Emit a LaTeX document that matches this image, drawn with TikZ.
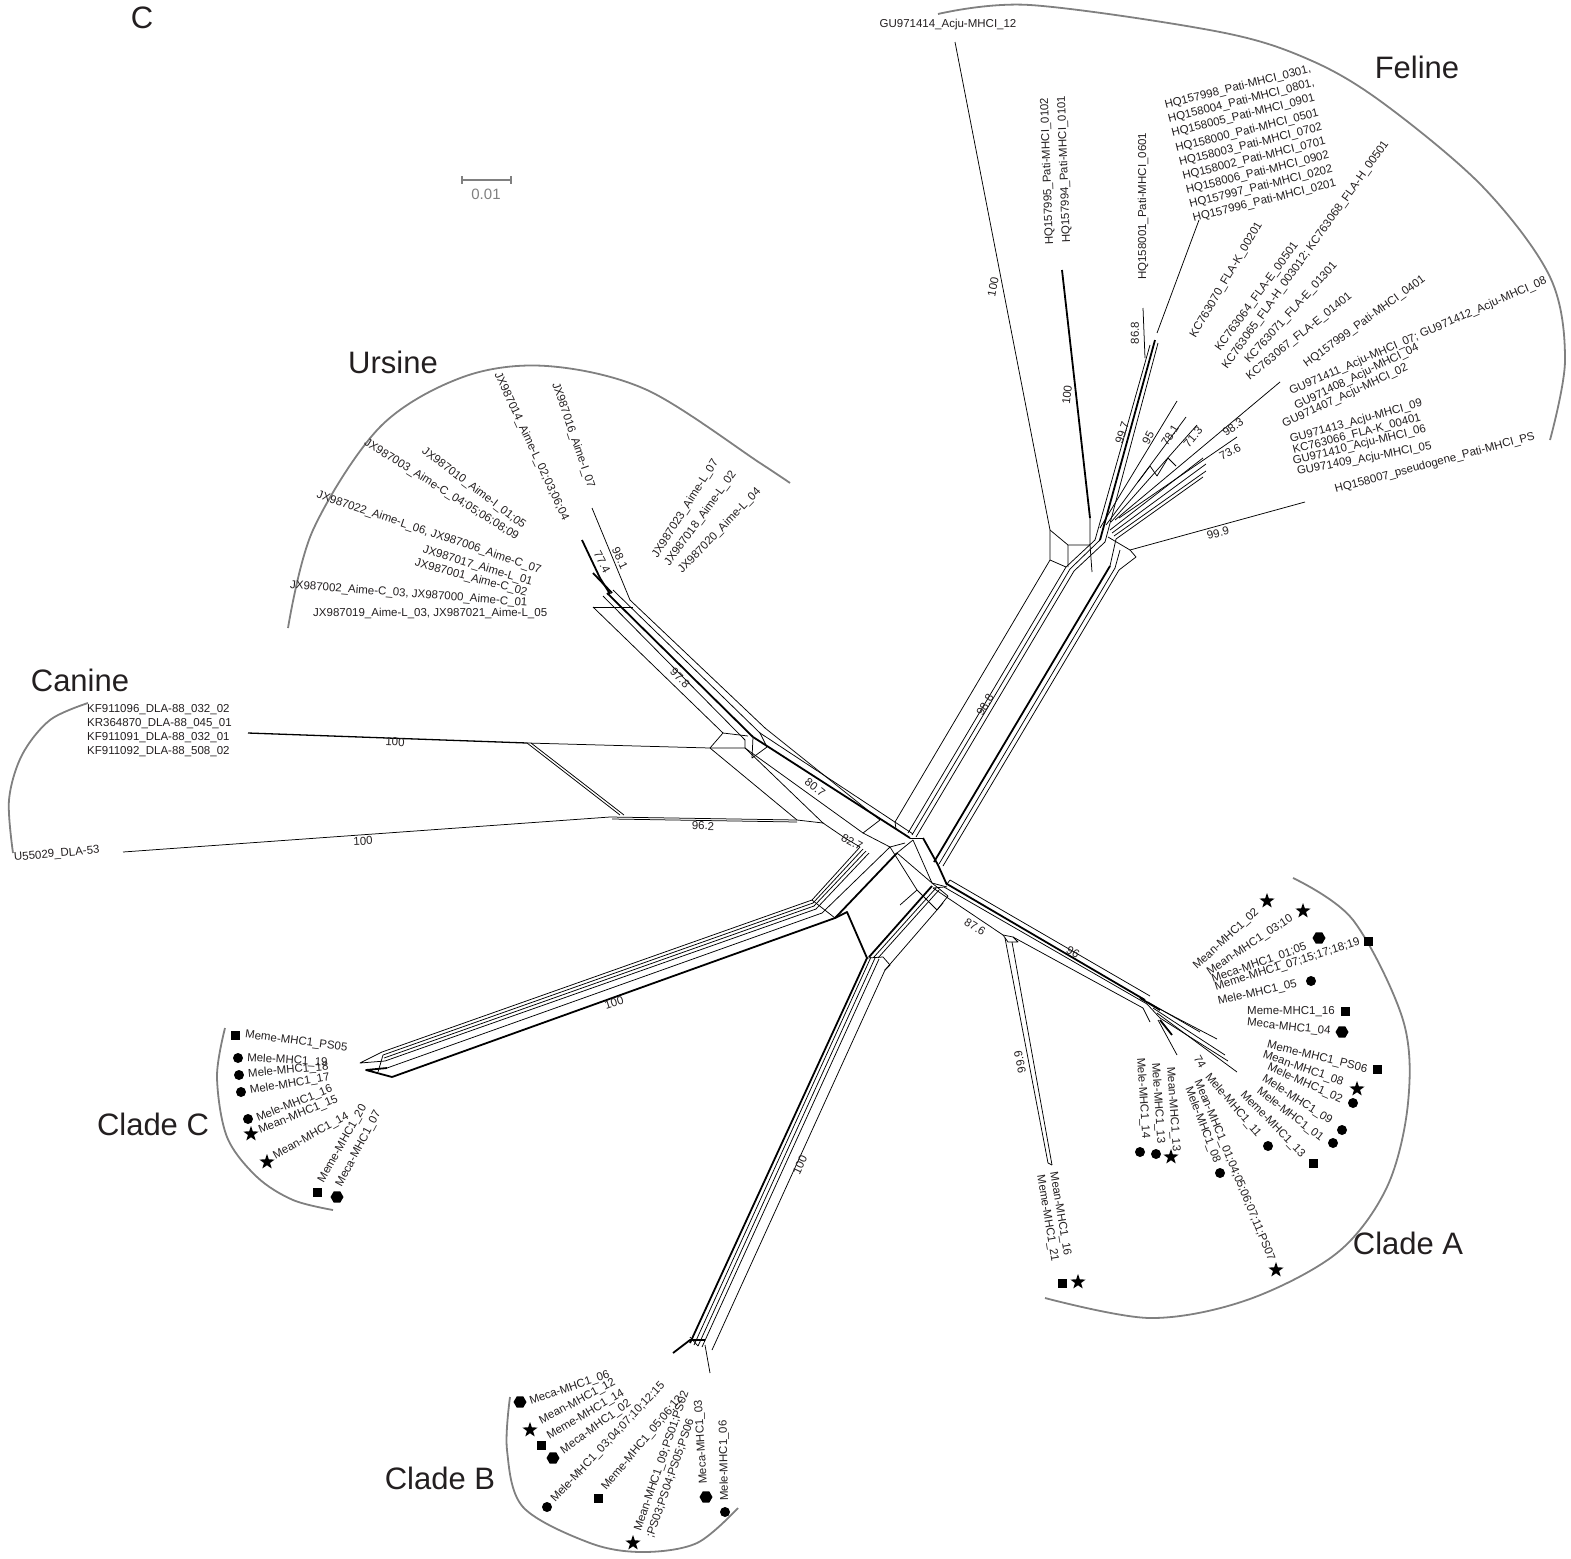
\documentclass[tikz,border=0pt]{standalone}
\usepackage{fontspec}
\setmainfont{Liberation Sans}
\usetikzlibrary{shapes.geometric,calc}
\definecolor{arcgray}{RGB}{128,128,128}
\definecolor{txt}{RGB}{35,31,32}
\begin{document}
\begin{tikzpicture}[x=1pt,y=-1pt,
  net/.style={line width=0.75pt, line join=round},
  netthick/.style={line width=1.8pt, line join=round},
  arcline/.style={arcgray, line width=1.8pt},
  lab/.style={font=\fontsize{11.5}{14}\selectfont, inner sep=0pt, text=txt, anchor=west},
  bs/.style={font=\fontsize{11.5}{13}\selectfont, inner sep=0pt, text=txt},
  big/.style={font=\fontsize{31}{36}\selectfont, inner sep=0pt, text=txt},
  mstar/.style={star, star points=5, star point ratio=2.5, fill=black, draw=none, inner sep=0pt, minimum size=16pt},
  mcirc/.style={circle, fill=black, draw=none, inner sep=0pt, minimum size=10pt},
  msq/.style={rectangle, fill=black, draw=none, inner sep=0pt, minimum size=9pt},
  mhex/.style={regular polygon, regular polygon sides=6, fill=black, draw=none, inner sep=0pt, minimum size=13pt}]
\useasboundingbox (0,0) rectangle (1571,1558);

% ---------- group arcs ----------
\draw[arcline] plot[smooth,tension=0.55] coordinates {(938,14) (1030,5) (1220,32) (1310,60) (1383,103) (1483,187) (1550,277) (1565,360) (1550,440)};
\draw[arcline] plot[smooth,tension=0.55] coordinates {(288,628) (313,530) (380,427) (463,377) (547,366) (647,390) (760,463) (790,483)};
\draw[arcline] plot[smooth,tension=0.55] coordinates {(88,703) (50,720) (22,755) (9,800) (13,853)};
\draw[arcline] plot[smooth,tension=0.55] coordinates {(1293,878) (1353,920) (1403,1020) (1408,1103) (1387,1187) (1337,1253) (1247,1300) (1150,1318) (1045,1298)};
\draw[arcline] plot[smooth,tension=0.55] coordinates {(510,1397) (507,1450) (523,1507) (590,1543) (643,1552) (697,1543) (738,1508)};
\draw[arcline] plot[smooth,tension=0.55] coordinates {(225,1028) (217,1077) (227,1137) (257,1177) (293,1200) (333,1210)};

% ---------- scale bar ----------
\coordinate (sb1) at (462,180); \coordinate (sb2) at (511,180);
\draw[arcgray, line width=1.8pt] (sb1) -- (sb2);
\draw[arcgray, line width=1.4pt] ($(sb1)+(0,-4)$) -- ($(sb1)+(0,4)$) ($(sb2)+(0,-4)$) -- ($(sb2)+(0,4)$);
\node[font=\fontsize{15}{17}\selectfont, text=arcgray, inner sep=0pt] (sbl) at (486,194) {0.01};

% ---------- Feline part of network ----------
\draw[net] (895,822) -- (1050,560) -- (1050,530) -- (955,42);
\draw[net] (908,833) -- (1066,567) -- (1095,540);
\draw[net] (912,835) -- (1070,569) -- (1100,540);
\draw[net] (916,837) -- (1074,571) -- (1105,542);
\draw[netthick] (934,862) -- (1110,566);
\draw[net] (939,864) -- (1115,568);
\draw[net] (943,866) -- (1119,570);
\draw[net] (1050,560) -- (1066,567);
\draw[net] (1050,530) -- (1068,545) -- (1090,545) -- (1090,518);
\draw[net] (1068,545) -- (1068,567) (1090,545) -- (1092,572);
\draw[netthick] (1090,518) -- (1062,270);
\draw[net] (1095,540) -- (1150,345);
\draw[netthick] (1100,540) -- (1155,340);
\draw[net] (1105,542) -- (1158,343);
\draw[net] (1145,358) -- (1143,308);
\draw[net] (1157,333) -- (1199,220);
\draw[net] (1100,528) -- (1177,401);
\draw[net] (1106,525) -- (1186,417);
\draw[net] (1111,522) -- (1197,425);
\draw[net] (1115,520) -- (1280,382);
\draw[net] (1119,518) -- (1237,437);
\draw[net] (1110,530) -- (1203,458);
\draw[net] (1112,533) -- (1206,464);
\draw[net] (1114,536) -- (1206,471);
\draw[net] (1116,539) -- (1203,477);
\draw[net] (1138,482) -- (1150,466) -- (1157,476) -- (1168,458) -- (1176,466);
\draw[net] (1110,566) -- (1116,539) (1115,568) -- (1120,550);
\draw[net] (1108,537) -- (1130,550) -- (1305,502);
\draw[net] (1119,570) -- (1136,557) -- (1130,550);

% ---------- Ursine part ----------
\draw[net] (592,508) -- (630,600) -- (765,728);
\draw[netthick] (582,540) -- (600,578) -- (610,594);
\draw[netthick] (593,573) -- (612,593);
\draw[net] (593,607) -- (633,607);
\draw[net] (593,607) -- (723,733) -- (748,736);
\draw[net] (603,596) -- (745,740);
\draw[netthick] (607,593) -- (753,737);
\draw[net] (613,590) -- (760,733);
\draw[netthick] (753,737) -- (910,838);
\draw[net] (760,733) -- (913,834);
\draw[net] (765,728) -- (880,820);
\draw[net] (745,748) -- (863,833);
\draw[net] (745,740) -- (745,748) (753,737) -- (752,758) -- (767,747) -- (760,733);

% ---------- Canine part ----------
\draw[line width=1.3pt] (248,733) -- (527,743);
\draw[net] (527,743) -- (710,748) -- (745,748);
\draw[net] (710,748) -- (723,733);
\draw[net] (527,743) -- (620,815) (531,743) -- (624,815);
\draw[net] (123,852) -- (610,817) -- (797,820) -- (823,823);
\draw[net] (612,819) -- (797,822);
\draw[net] (710,748) -- (797,820);
\draw[net] (745,748) -- (823,823);
\draw[net] (823,823) -- (845,838) -- (860,847);

% ---------- hub ----------
\draw[net] (880,820) -- (863,833) -- (890,847);
\draw[net] (895,822) -- (896,829);
\draw[net] (910,838) -- (923,838);
\draw[netthick] (923,838) -- (938,865) -- (947,885);
\draw[net] (913,840) -- (932,883) -- (947,887);
\draw[net] (890,847) -- (917,890) -- (937,910);
\draw[net] (897,853) -- (932,883);
\draw[net] (905,843) -- (890,847);
\draw[net] (913,840) -- (897,853);
\draw[net] (917,890) -- (900,905) (937,910) -- (948,896);
\draw[net] (932,883) -- (948,896);

% ---------- Clade C part ----------
\draw[net] (860,847) -- (812,900) -- (382,1052);
\draw[net] (863,849) -- (813,903) -- (383,1055);
\draw[net] (866,851) -- (814,906) -- (384,1058);
\draw[net] (869,853) -- (816,909) -- (385,1061);
\draw[net] (890,847) -- (822,913) -- (387,1068);
\draw[netthick] (897,853) -- (835,918) -- (392,1077);
\draw[net] (812,900) -- (835,918);
\draw[net] (382,1052) -- (360,1063) -- (385,1061);
\draw[netthick] (387,1068) -- (366,1070) -- (392,1077);
\draw[net] (383,1055) -- (378,1072);

% ---------- Clade B part ----------
\draw[netthick] (835,918) -- (847,912) -- (867,958) -- (690,1343);
\draw[net] (871,957) -- (694,1345);
\draw[net] (875,958) -- (698,1346);
\draw[net] (879,959) -- (702,1347);
\draw[net] (885,970) -- (712,1350);
\draw[net] (867,958) -- (883,957) -- (890,965) -- (885,970);
\draw[netthick] (869,957) -- (932,886);
\draw[net] (874,957) -- (936,888) (878,958) -- (939,890);
\draw[net] (885,970) -- (943,903);
\draw[netthick] (673,1353) -- (690,1340) -- (705,1340);
\draw[net] (690,1337) -- (698,1346) (705,1345) -- (710,1373);

% ---------- Clade A part ----------
\draw[netthick] (947,884) -- (1145,1000);
\draw[net] (950,880) -- (1150,996);
\draw[net] (944,887) -- (1147,1004);
\draw[net] (933,888) -- (1003,935) -- (1013,937) -- (1143,1008);
\draw[net] (1003,935) -- (1008,942) -- (1018,942) -- (1013,937);
\draw[net] (1005,938) -- (1048,1163);
\draw[net] (1012,942) -- (1052,1165);
\draw[net] (1048,1163) -- (1052,1165);
\draw[net] (947,884) -- (950,880) (944,887) -- (933,888);
\draw[netthick] (1140,998) -- (1160,1010);
\draw[net] (1148,1002) -- (1200,1032);
\draw[net] (1150,1004) -- (1217,1039);
\draw[net] (1153,1008) -- (1225,1055);
\draw[net] (1157,1013) -- (1237,1072);
\draw[net] (1160,1018) -- (1228,1061);
\draw[net] (1158,1020) -- (1177,1055);
\draw[netthick] (1160,1020) -- (1172,1035);
\draw[net] (1143,1008) -- (1150,1022) (1147,1004) -- (1160,1018);

% ---------- big labels ----------
\node[big] (panel) at (142,18) {C};
\node[big] (feline) at (1417,67) {Feline};
\node[big] (ursine) at (393,362) {Ursine};
\node[big] (canine) at (80,680) {Canine};
\node[big] (cladeC) at (153,1124) {Clade C};
\node[big] (cladeB) at (440,1478) {Clade B};
\node[big] (cladeA) at (1408,1243) {Clade A};

% ---------- bootstrap values ----------
\node[bs, rotate=79] (b1) at (993,287) {100};
\node[bs, rotate=84] (b2) at (1067,395) {100};
\node[bs, rotate=90] (b3) at (1135,333) {86.8};
\node[bs, rotate=72] (b4) at (1122,433) {99.7};
\node[bs, rotate=62] (b5) at (1148,438) {95};
\node[bs, rotate=58] (b6) at (1170,435) {78.1};
\node[bs, rotate=50] (b7) at (1193,437) {71.3};
\node[bs, rotate=35] (b8) at (1233,427) {98.3};
\node[bs, rotate=27] (b9) at (1230,452) {73.6};
\node[bs, rotate=15] (b10) at (1218,533) {99.9};
\node[bs, rotate=59] (b11) at (985,705) {98.8};
\node[bs, rotate=-65] (b12) at (620,558) {98.1};
\node[bs, rotate=-62] (b13) at (602,562) {77.4};
\node[bs, rotate=-45] (b14) at (680,678) {97.8};
\node[bs, rotate=-38] (b15) at (815,787) {80.7};
\node[bs, rotate=-28] (b16) at (852,842) {82.7};
\node[bs, rotate=-2] (b17) at (395,742) {100};
\node[bs, rotate=-1] (b18) at (703,826) {96.2};
\node[bs, rotate=3] (b19) at (363,841) {100};
\node[bs, rotate=18] (b20) at (614,1003) {100};
\node[bs, rotate=65] (b21) at (800,1165) {100};
\node[bs, rotate=-32] (b22) at (975,927) {87.6};
\node[bs, rotate=-30] (b23) at (1073,952) {96};
\node[bs, rotate=101] (b24) at (1020,1062) {99.9};
\node[bs, rotate=-60] (b25) at (1200,1062) {74};

% ---------- Feline labels ----------
\node[lab, anchor=center] (f1) at (948,25) {GU971414\_Acju-MHCI\_12};
\node[lab, rotate=92] (f2) at (1050,245) {HQ157995\_Pati-MHCI\_0102};
\node[lab, rotate=92] (f3) at (1067,243) {HQ157994\_Pati-MHCI\_0101};
\node[lab, rotate=90] (f4) at (1143,280) {HQ158001\_Pati-MHCI\_0601};
\node[lab, anchor=center, align=left, rotate=14, font=\fontsize{11.5}{14.4}\selectfont] (f5) at (1252,144)
 {HQ157998\_Pati-MHCI\_0301,\\HQ158004\_Pati-MHCI\_0801,\\HQ158005\_Pati-MHCI\_0901\\[1.5pt]HQ158000\_Pati-MHCI\_0501\\HQ158003\_Pati-MHCI\_0702\\HQ158002\_Pati-MHCI\_0701\\HQ158006\_Pati-MHCI\_0902\\HQ157997\_Pati-MHCI\_0202\\HQ157996\_Pati-MHCI\_0201};
\node[lab, rotate=59.5] (f6) at (1193,337) {KC763070\_FLA-K\_00201};
\node[lab, rotate=53.7] (f7) at (1218,350) {KC763064\_FLA-E\_00501};
\node[lab, rotate=54.4] (f8) at (1225,368) {KC763065\_FLA-H\_003012; KC763068\_FLA-H\_00501};
\node[lab, rotate=48] (f9) at (1247,362) {KC763071\_FLA-E\_01301};
\node[lab, rotate=39] (f10) at (1248,378) {KC763067\_FLA-E\_01401};
\node[lab, rotate=36] (f11) at (1305,365) {HQ157999\_Pati-MHCI\_0401};
\node[lab, rotate=23.5] (f12) at (1290,392) {GU971411\_Acju-MHCI\_07; GU971412\_Acju-MHCI\_08};
\node[lab, rotate=26] (f13) at (1295,407) {GU971408\_Acju-MHCI\_04};
\node[lab, rotate=25] (f14) at (1283,425) {GU971407\_Acju-MHCI\_02};
\node[lab, rotate=15.6] (f15) at (1290,440) {GU971413\_Acju-MHCI\_09};
\node[lab, rotate=14.5] (f16) at (1293,451) {KC763066\_FLA-K\_00401};
\node[lab, rotate=14] (f17) at (1293,462) {GU971410\_Acju-MHCI\_06};
\node[lab, rotate=11] (f18) at (1297,472) {GU971409\_Acju-MHCI\_05};
\node[lab, rotate=15] (f19) at (1335,490) {HQ158007\_pseudogene\_Pati-MHCI\_PS};

% ---------- Ursine labels ----------
\node[lab, rotate=-65] (u1) at (497,373) {JX987014\_Aime-L\_02;03;06;04};
\node[lab, rotate=-71] (u2) at (555,383) {JX987016\_Aime-I\_07};
\node[lab, rotate=-37] (u3) at (423,450) {JX987010\_Aime-I\_01;05};
\node[lab, rotate=-32] (u4) at (365,442) {JX987003\_Aime-C\_04;05;06;08;09};
\node[lab, rotate=-18.6] (u5) at (317,495) {JX987022\_Aime-L\_06, JX987006\_Aime-C\_07};
\node[lab, rotate=-16.7] (u6) at (423,550) {JX987017\_Aime-L\_01};
\node[lab, rotate=-15] (u7) at (415,563) {JX987001\_Aime-C\_02};
\node[lab, rotate=-4.4] (u8) at (290,585) {JX987002\_Aime-C\_03, JX987000\_Aime-C\_01};
\node[lab] (u9) at (313,613) {JX987019\_Aime-L\_03, JX987021\_Aime-L\_05};
\node[lab, rotate=57.7] (u10) at (655,557) {JX987023\_Aime-L\_07};
\node[lab, rotate=54] (u11) at (667,565) {JX987018\_Aime-L\_02};
\node[lab, rotate=46] (u12) at (680,572) {JX987020\_Aime-L\_04};

% ---------- Canine labels ----------
\node[lab, align=left] (c1) at (87,731) {KF911096\_DLA-88\_032\_02\\KR364870\_DLA-88\_045\_01\\KF911091\_DLA-88\_032\_01\\KF911092\_DLA-88\_508\_02};
\node[lab, rotate=5] (c2) at (14,858) {U55029\_DLA-53};

% ---------- Clade A labels and markers ----------
\node[lab, rotate=42.6] (a1) at (1195,968) {Mean-MHC1\_02};
\node[mstar] (ma1) at (1267,901) {};
\node[lab, rotate=33.4] (a2) at (1208,973) {Mean-MHC1\_03;10};
\node[mstar] (ma2) at (1303,911) {};
\node[lab, rotate=19.3] (a3) at (1212,980) {Meca-MHC1\_01;05};
\node[mhex] (ma3) at (1319,938) {};
\node[lab, rotate=17.6] (a4) at (1215,988) {Meme-MHC1\_07;15;17;18;19};
\node[msq] (ma4) at (1368,941) {};
\node[lab, rotate=13] (a5) at (1218,1002) {Mele-MHC1\_05};
\node[mcirc] (ma5) at (1311,981) {};
\node[lab] (a6) at (1247,1012) {Meme-MHC1\_16};
\node[msq] (ma6) at (1345,1011) {};
\node[lab, rotate=-6] (a7) at (1247,1023) {Meca-MHC1\_04};
\node[mhex] (ma7) at (1342,1032) {};
\node[lab, rotate=-14] (a8) at (1267,1045) {Meme-MHC1\_PS06};
\node[msq] (ma8) at (1377,1069) {};
\node[lab, rotate=-19] (a9) at (1263,1055) {Mean-MHC1\_08};
\node[mstar] (ma9) at (1357,1089) {};
\node[lab, rotate=-24] (a10) at (1268,1067) {Mele-MHC1\_02};
\node[mcirc] (ma10) at (1353,1103) {};
\node[lab, rotate=-32.5] (a11) at (1263,1078) {Mele-MHC1\_09};
\node[mcirc] (ma11) at (1342,1130) {};
\node[lab, rotate=-37.6] (a12) at (1258,1090) {Mele-MHC1\_01};
\node[mcirc] (ma12) at (1333,1143) {};
\node[lab, rotate=-46] (a13) at (1242,1093) {Meme-MHC1\_13};
\node[msq] (ma13) at (1313,1163) {};
\node[lab, rotate=-49.5] (a14) at (1207,1075) {Mele-MHC1\_11};
\node[mcirc] (ma14) at (1268,1146) {};
\node[lab, rotate=-67.6] (a15) at (1197,1080) {Mean-MHC1\_01;04;05;06;07;11;PS07};
\node[mstar] (ma15) at (1276,1270) {};
\node[lab, rotate=-69] (a16) at (1188,1087) {Mele-MHC1\_08};
\node[mcirc] (ma16) at (1220,1173) {};
\node[lab, rotate=-86] (a17) at (1170,1067) {Mean-MHC1\_13};
\node[mstar] (ma17) at (1171,1157) {};
\node[lab, rotate=-86] (a18) at (1155,1063) {Mele-MHC1\_13};
\node[mcirc] (ma18) at (1156,1154) {};
\node[lab, rotate=-86] (a19) at (1140,1058) {Mele-MHC1\_14};
\node[mcirc] (ma19) at (1140,1152) {};
\node[lab, rotate=-80.5] (a20) at (1053,1172) {Mean-MHC1\_16};
\node[mstar] (ma20) at (1078,1282) {};
\node[lab, rotate=-80.5] (a21) at (1040,1175) {Meme-MHC1\_21};
\node[msq] (ma21) at (1062,1283) {};

% ---------- Clade B labels and markers ----------
\node[lab, rotate=19] (bb1) at (530,1402) {Meca-MHC1\_06};
\node[mhex] (mb1) at (520,1402) {};
\node[lab, rotate=28] (bb2) at (540,1422) {Mean-MHC1\_12};
\node[mstar] (mb2) at (530,1430) {};
\node[lab, rotate=30.6] (bb3) at (548,1437) {Meme-MHC1\_14};
\node[msq] (mb3) at (541,1445) {};
\node[lab, rotate=36] (bb4) at (562,1452) {Meca-MHC1\_02};
\node[mhex] (mb4) at (553,1458) {};
\node[lab, rotate=46.8] (bb5) at (553,1501) {Mele-MHC1\_03;04;07;10;12;15};
\node[mcirc] (mb5) at (547,1507) {};
\node[lab, rotate=50] (bb6) at (604,1489) {Meme-MHC1\_05;06;12};
\node[msq] (mb6) at (598,1498) {};
\node[lab, rotate=71] (bb7) at (638,1531) {Mean-MHC1\_09;PS01;PS02};
\node[lab, rotate=71] (bb8) at (650,1538) {;PS03;PS04;PS05;PS06};
\node[mstar] (mb7) at (633,1543) {};
\node[lab, rotate=93.5] (bb9) at (704,1484) {Meca-MHC1\_03};
\node[mhex] (mb9) at (706,1497) {};
\node[lab, rotate=91] (bb10) at (725,1501) {Mele-MHC1\_06};
\node[mcirc] (mb10) at (725,1512) {};

% ---------- Clade C labels and markers ----------
\node[lab, rotate=-7.4] (cc1) at (245,1035) {Meme-MHC1\_PS05};
\node[msq] (mc1) at (235,1035) {};
\node[lab, rotate=-3.5] (cc2) at (247,1058) {Mele-MHC1\_19};
\node[mcirc] (mc2) at (238,1058) {};
\node[lab, rotate=5] (cc3) at (248,1074) {Mele-MHC1\_18};
\node[mcirc] (mc3) at (239,1075) {};
\node[lab, rotate=9.5] (cc4) at (250,1091) {Mele-MHC1\_17};
\node[mcirc] (mc4) at (241,1092) {};
\node[lab, rotate=22] (cc5) at (257,1119) {Mele-MHC1\_16};
\node[mcirc] (mc5) at (248,1119) {};
\node[lab, rotate=22] (cc6) at (259,1131) {Mean-MHC1\_15};
\node[mstar] (mc6) at (251,1134) {};
\node[lab, rotate=29] (cc7) at (274,1157) {Mean-MHC1\_14};
\node[mstar] (mc7) at (267,1162) {};
\node[lab, rotate=60.5] (cc8) at (321,1182) {Meme-MHC1\_20};
\node[msq] (mc8) at (317,1192) {};
\node[lab, rotate=62] (cc9) at (339,1186) {Meca-MHC1\_07};
\node[mhex] (mc9) at (337,1197) {};
\end{tikzpicture}
\end{document}
